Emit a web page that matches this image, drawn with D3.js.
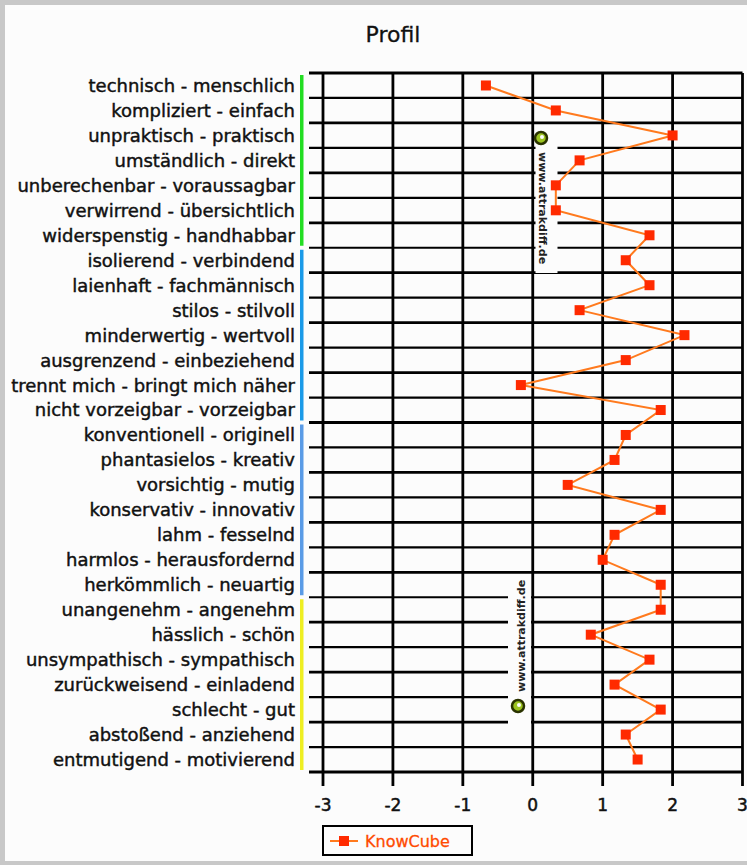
<!DOCTYPE html>
<html><head><meta charset="utf-8">
<script src="https://cdn.jsdelivr.net/npm/d3@7"></script>
<style>body{margin:0;background:#fff}svg{display:block}</style>
</head><body>
<svg id="c" width="747" height="865"></svg>
<script>
const categories = [
  "technisch - menschlich","kompliziert - einfach","unpraktisch - praktisch","umständlich - direkt",
  "unberechenbar - voraussagbar","verwirrend - übersichtlich","widerspenstig - handhabbar",
  "isolierend - verbindend","laienhaft - fachmännisch","stilos - stilvoll","minderwertig - wertvoll",
  "ausgrenzend - einbeziehend","trennt mich - bringt mich näher","nicht vorzeigbar - vorzeigbar",
  "konventionell - originell","phantasielos - kreativ","vorsichtig - mutig","konservativ - innovativ",
  "lahm - fesselnd","harmlos - herausfordernd","herkömmlich - neuartig",
  "unangenehm - angenehm","hässlich - schön","unsympathisch - sympathisch","zurückweisend - einladend",
  "schlecht - gut","abstoßend - anziehend","entmutigend - motivierend"
];
const values = [
  -0.67, 0.33, 2.0, 0.67, 0.33, 0.33, 1.67,
  1.33, 1.67, 0.67, 2.17, 1.33, -0.17, 1.83,
  1.33, 1.17, 0.5, 1.83, 1.17, 1.0, 1.83,
  1.83, 0.83, 1.67, 1.17, 1.83, 1.33, 1.5
];
const groupColors = ["#22dd22", "#1a9ae8", "#5a9be6", "#eeee22"];
const groupOf = categories.map((c, i) => Math.floor(i / 7));
const xTicks = [-3, -2, -1, 0, 1, 2, 3];
const seriesName = "KnowCube";
const title = "Profil";
const watermark = "www.attrakdiff.de";

const svg = d3.select("#c");
const FONT = "DejaVu Sans, Verdana, sans-serif";

// frame
svg.append("rect").attr("x", 0).attr("y", 0).attr("width", 747).attr("height", 865).attr("fill", "#c8c8c8");
svg.append("rect").attr("x", 5).attr("y", 5).attr("width", 747).attr("height", 856).attr("fill", "#fcfcfc");

const x = d3.scaleLinear().domain([-3, 3]).range([323, 742.5]);
const y = d3.scaleBand().domain(categories).range([73, 772]).padding(0);
const bw = y.bandwidth();
const plotL = 309;

// title
svg.append("text").attr("x", 393).attr("y", 42).attr("text-anchor", "middle")
  .attr("font-family", FONT).attr("font-size", 22).attr("fill", "#111")
  .attr("stroke", "#111").attr("stroke-width", 0.3).text(title);

// horizontal grid lines at category boundaries
const bounds = categories.map(c => y(c)).concat([y.range()[1]]);
svg.append("g").selectAll("line").data(bounds).join("line")
  .attr("x1", plotL).attr("x2", x(3)).attr("y1", d => d).attr("y2", d => d)
  .attr("stroke", "#000").attr("stroke-width", (d, i) => i % 2 === 0 ? 2.8 : 2.2);

// vertical grid lines
svg.append("g").selectAll("line").data(xTicks).join("line")
  .attr("x1", d => x(d)).attr("x2", d => x(d)).attr("y1", 73).attr("y2", 786)
  .attr("stroke", "#000").attr("stroke-width", 2.8);

// group colour bars
const groups = d3.groups(categories.map((c, i) => ({c, g: groupOf[i]})), d => d.g);
svg.append("g").selectAll("rect").data(groups).join("rect")
  .attr("x", 300).attr("width", 3.5)
  .attr("y", d => y(d[1][0].c) + 2)
  .attr("height", d => y(d[1][d[1].length - 1].c) + bw - y(d[1][0].c) - 4)
  .attr("fill", d => groupColors[d[0]]);

// category labels
svg.append("g").selectAll("text").data(categories).join("text")
  .attr("x", 295).attr("y", d => y(d) + bw / 2).attr("dy", "0.36em")
  .attr("text-anchor", "end").attr("font-family", FONT).attr("font-size", 18)
  .attr("fill", "#111").attr("stroke", "#111").attr("stroke-width", 0.45).text(d => d);

// watermarks
function logo(g, cx, cy) {
  g.append("circle").attr("cx", cx).attr("cy", cy).attr("r", 6).attr("fill", "#9cc420").attr("stroke", "#2a3300").attr("stroke-width", 2.5);
  g.append("circle").attr("cx", cx + 1).attr("cy", cy - 1).attr("r", 2).attr("fill", "#fcfcfc");
}
const wm = svg.append("g");
wm.append("rect").attr("x", 535.5).attr("y", 127).attr("width", 22).attr("height", 146).attr("fill", "#fcfcfc");
logo(wm, 541, 138);
wm.append("text").attr("transform", "translate(539,152) rotate(90)")
  .attr("font-family", FONT).attr("font-weight", "bold").attr("font-size", 11).attr("fill", "#222")
  .text(watermark);
wm.append("rect").attr("x", 508).attr("y", 577).attr("width", 23).attr("height", 153).attr("fill", "#fcfcfc");
logo(wm, 518, 706);
wm.append("text").attr("transform", "translate(525,692) rotate(-90)")
  .attr("font-family", FONT).attr("font-weight", "bold").attr("font-size", 11).attr("fill", "#222")
  .text(watermark);

// x axis tick labels
svg.append("g").selectAll("text").data(xTicks).join("text")
  .attr("x", d => x(d)).attr("y", 811).attr("text-anchor", "middle")
  .attr("font-family", FONT).attr("font-size", 17).attr("fill", "#111")
  .attr("stroke", "#111").attr("stroke-width", 0.5).text(d => d);

// series line + markers
const line = d3.line().x(d => x(d.v)).y(d => y(d.c) + bw / 2);
const pts = categories.map((c, i) => ({c, v: values[i]}));
svg.append("path").datum(pts).attr("d", line).attr("fill", "none")
  .attr("stroke", "#ff7a1e").attr("stroke-width", 2);
svg.append("g").selectAll("rect").data(pts).join("rect")
  .attr("x", d => x(d.v) - 5).attr("y", d => y(d.c) + bw / 2 - 5)
  .attr("width", 10).attr("height", 10).attr("fill", "#ff2a00");

// legend
const lg = svg.append("g");
lg.append("rect").attr("x", 323).attr("y", 826).attr("width", 149).attr("height", 29)
  .attr("fill", "#fcfcfc").attr("stroke", "#000").attr("stroke-width", 2);
lg.append("line").attr("x1", 330).attr("x2", 358).attr("y1", 841).attr("y2", 841)
  .attr("stroke", "#ff7a1e").attr("stroke-width", 2);
lg.append("rect").attr("x", 339).attr("y", 836).attr("width", 10).attr("height", 10).attr("fill", "#ff2a00");
lg.append("text").attr("x", 365).attr("y", 841).attr("dy", "0.36em")
  .attr("font-family", FONT).attr("font-size", 16).attr("fill", "#ff4a00")
  .attr("stroke", "#ff4a00").attr("stroke-width", 0.3).text(seriesName);
</script>
</body></html>
